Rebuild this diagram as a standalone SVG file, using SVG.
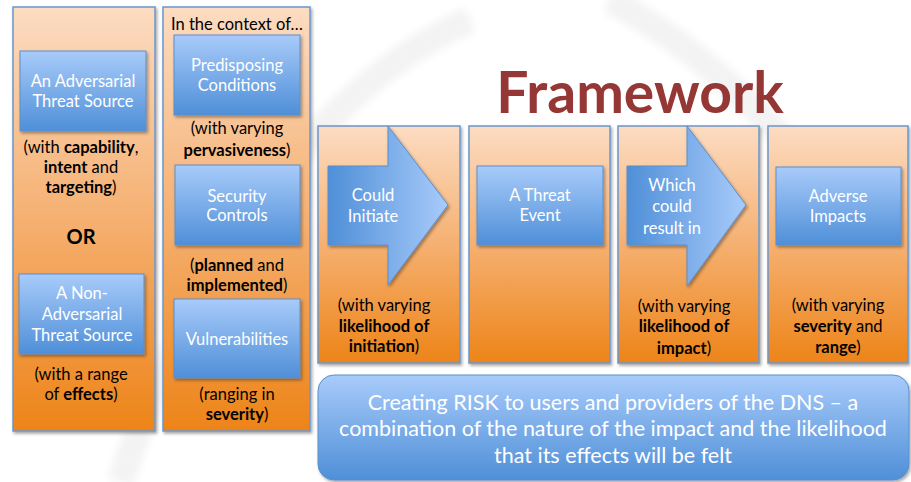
<svg xmlns="http://www.w3.org/2000/svg" width="911" height="482" viewBox="0 0 911 482">
<defs>
<linearGradient id="og" x1="0" y1="0" x2="0" y2="1">
<stop offset="0" stop-color="#fcdcc2"/><stop offset="0.5" stop-color="#f5b071"/><stop offset="1" stop-color="#ed8418"/>
</linearGradient>
<linearGradient id="bg" x1="0" y1="0" x2="0" y2="1">
<stop offset="0" stop-color="#a8cbfa"/><stop offset="1" stop-color="#4f8fd8"/>
</linearGradient>
<linearGradient id="ag" x1="0" y1="0" x2="1" y2="0">
<stop offset="0" stop-color="#4f8fd8"/><stop offset="1" stop-color="#a8cbfa"/>
</linearGradient>
<filter id="sh" x="-10%" y="-10%" width="125%" height="125%">
<feDropShadow dx="1.5" dy="2" stdDeviation="1.5" flood-color="#000" flood-opacity="0.35"/>
</filter>
<filter id="bl"><feGaussianBlur stdDeviation="4"/></filter>
<style>
.col{fill:url(#og);stroke:#6a97cf;stroke-width:1.5;filter:url(#sh)}
.box{fill:url(#bg);stroke:#5b8fcc;stroke-width:1;filter:url(#sh)}
.arr{fill:url(#ag);stroke:#5b8fcc;stroke-width:1;filter:url(#sh)}
text{font-family:Lato,"Open Sans","Liberation Sans",sans-serif;text-anchor:middle}
.w{fill:#fff;font-size:16.5px}
.k{fill:#000;font-size:16.5px}
.b{font-weight:bold}
.big{fill:#fff;font-size:21.5px}
</style>
</defs>
<rect width="911" height="482" fill="#fff"/>
<g fill="none" stroke="#f3f3f3" stroke-width="26" filter="url(#bl)">
<path d="M120 482 C200 250 330 80 470 20"/>
<path d="M610 0 C720 60 820 160 900 300"/>
</g>

<g id="col-sources">
<rect class="col" x="13" y="7" width="142" height="424"/>
<g id="adversarial">
<rect class="box" x="20" y="51" width="126" height="80"/>
<text class="w" x="83" y="87">An Adversarial</text>
<text class="w" x="83" y="107">Threat Source</text>
</g>
<text class="k" x="81" y="153">(with <tspan class="b">capability</tspan>,</text>
<text class="k" x="81" y="173"><tspan class="b">intent</tspan> and</text>
<text class="k" x="81" y="193"><tspan class="b">targeting</tspan>)</text>
<text class="k b" x="81" y="244" style="font-size:20px">OR</text>
<g id="non-adversarial">
<rect class="box" x="19" y="274" width="125" height="80"/>
<text class="w" x="82" y="299">A Non-</text>
<text class="w" x="82" y="320">Adversarial</text>
<text class="w" x="82" y="341">Threat Source</text>
</g>
<text class="k" x="81" y="380">(with a range</text>
<text class="k" x="81" y="400">of <tspan class="b">effects</tspan>)</text>
</g>

<g id="col-context">
<rect class="col" x="163" y="7" width="147" height="424"/>
<text class="k" x="237" y="30">In the context of…</text>
<g id="predisposing">
<rect class="box" x="174" y="35" width="126" height="80"/>
<text class="w" x="237" y="71">Predisposing</text>
<text class="w" x="237" y="91">Conditions</text>
</g>
<text class="k" x="237" y="134">(with varying</text>
<text class="k" x="237" y="156"><tspan class="b">pervasiveness</tspan>)</text>
<g id="security">
<rect class="box" x="175" y="165" width="125" height="80"/>
<text class="w" x="237" y="202">Security</text>
<text class="w" x="237" y="221">Controls</text>
</g>
<text class="k" x="237" y="271">(<tspan class="b">planned</tspan> and</text>
<text class="k" x="237" y="291"><tspan class="b">implemented</tspan>)</text>
<g id="vulnerabilities">
<rect class="box" x="174" y="299" width="126" height="79"/>
<text class="w" x="237" y="345">Vulnerabilities</text>
</g>
<text class="k" x="237" y="400">(ranging in</text>
<text class="k" x="237" y="420"><tspan class="b">severity</tspan>)</text>
</g>

<g id="title">
<text x="640" y="113" style="font-size:57px;font-weight:bold;fill:#953735">Framework</text>
</g>

<g id="initiate">
<rect class="col" x="318" y="126" width="142" height="237"/>
<path class="arr" d="M328 166 H388 V126 L448 205 L388 285 V245 H328 Z"/>
<text class="w" x="373" y="201">Could</text>
<text class="w" x="373" y="222">Initiate</text>
<text class="k" x="384" y="311">(with varying</text>
<text class="k b" x="384" y="332">likelihood of</text>
<text class="k" x="384" y="352"><tspan class="b">initiation</tspan>)</text>
</g>

<g id="threat-event">
<rect class="col" x="469" y="126" width="141" height="237"/>
<rect class="box" x="477" y="166" width="126" height="79"/>
<text class="w" x="540" y="201">A Threat</text>
<text class="w" x="540" y="221">Event</text>
</g>

<g id="result">
<rect class="col" x="618" y="126" width="141" height="237"/>
<path class="arr" d="M627 166 H687 V126 L746 205 L687 286 V245 H627 Z"/>
<text class="w" x="672" y="191">Which</text>
<text class="w" x="672" y="212">could</text>
<text class="w" x="672" y="234">result in</text>
<text class="k" x="684" y="312">(with varying</text>
<text class="k b" x="684" y="332">likelihood of</text>
<text class="k" x="684" y="354"><tspan class="b">impact</tspan>)</text>
</g>

<g id="impacts">
<rect class="col" x="768" y="126" width="140" height="237"/>
<rect class="box" x="776" y="167" width="125" height="78"/>
<text class="w" x="838" y="202">Adverse</text>
<text class="w" x="838" y="222">Impacts</text>
<text class="k" x="838" y="311">(with varying</text>
<text class="k" x="838" y="332"><tspan class="b">severity</tspan> and</text>
<text class="k" x="838" y="353"><tspan class="b">range</tspan>)</text>
</g>

<g id="risk">
<rect class="box" x="318" y="375" width="591" height="105" rx="16"/>
<text class="big" x="613" y="410">Creating RISK to users and providers of the DNS – a</text>
<text class="big" x="613" y="436">combination of the nature of the impact and the likelihood</text>
<text class="big" x="613" y="463">that its effects will be felt</text>
</g>

<g id="connectors"></g>
</svg>
